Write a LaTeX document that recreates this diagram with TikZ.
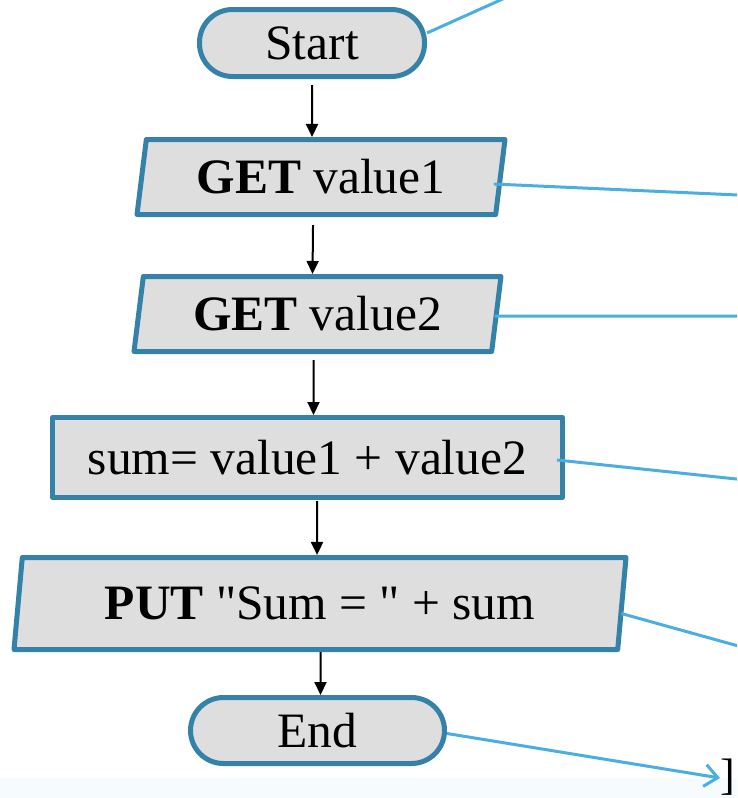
\documentclass[tikz,border=0pt]{standalone}
\usepackage{fontspec}
\setmainfont{Liberation Serif}
\usetikzlibrary{arrows.meta,shapes.geometric}

\definecolor{edgeblue}{HTML}{3582A8}
\definecolor{boxgray}{HTML}{DEDEDE}
\definecolor{linkblue}{HTML}{4BAEE3}
\definecolor{bandcyan}{HTML}{F6FBFD}

% straight double quote, kept out of the TeX quote mapping
\newcommand\dquote{\XeTeXglyph\XeTeXcharglyph34\relax}

\begin{document}
\begin{tikzpicture}[
  x=1pt, y=-1pt,
  font=\fontsize{49.5}{58}\selectfont,
  termbox/.style={draw=edgeblue, fill=boxgray, line width=5pt, rounded corners=33pt, minimum height=67pt, inner sep=0pt},
  iobox/.style={trapezium, trapezium left angle=75, trapezium right angle=105, trapezium stretches body,
    draw=edgeblue, fill=boxgray, line width=5pt, line join=round, inner sep=0pt},
  procbox/.style={rectangle, draw=edgeblue, fill=boxgray, line width=5pt, line join=round, inner sep=0pt},
  flow/.style={-{Triangle[length=13pt,width=12pt]}, line width=2pt},
  note/.style={linkblue, line width=3pt},
]

% page frame, lines running off the edge are cut
\clip (0,0) rectangle (737,798);
\fill[bandcyan] (0,778) rectangle (737,798);

% --- flowchart boxes ---
\node[termbox, minimum width=225pt] (start) at (312,43) {Start};
\node[iobox, minimum width=368pt, minimum height=75pt] (get1) at (321,177) {\textbf{GET} value1};
\node[iobox, minimum width=367pt, minimum height=75pt] (get2) at (317.5,314) {\textbf{GET} value2};
\node[procbox, minimum width=510pt, minimum height=80pt] (calc) at (307.5,457.5) {sum= value1 + value2};
\node[iobox, trapezium left angle=76, trapezium right angle=104, minimum width=612pt, minimum height=92pt]
  (put) at (320,603.5) {\textbf{PUT} \dquote Sum = \dquote{} + sum};
\node[termbox, minimum width=254pt, minimum height=66pt] (end) at (317.5,730.5) {End};

% --- flow arrows ---
\draw[flow] ([yshift=-6pt]start.south) -- ([xshift=-9pt]get1.north);
\draw[flow] ([xshift=-8pt,yshift=-8pt]get1.south) -- ([xshift=-5pt]get2.north);
\draw[flow] ([xshift=-4pt,yshift=-6pt]get2.south) -- ([xshift=6pt]calc.north);
\draw[flow] ([xshift=9.5pt,yshift=-1pt]calc.south) -- ([xshift=-3pt]put.north);
\draw[flow] ([xshift=0.5pt]put.south) -- ([xshift=3pt]end.north);

% --- callout lines to the right ---
\coordinate (o1) at (545,-20);
\coordinate (o2) at (760,196);
\coordinate (o3) at (760,316);
\coordinate (o4) at (760,481.5);
\coordinate (o5) at (760,652);
\coordinate (o6) at (720,778);
\draw[note] ([yshift=10pt]start.east) -- (o1);
\draw[note] ([xshift=-9pt,yshift=-7pt]get1.east) -- (o2);
\draw[note] ([xshift=-4pt,yshift=-2pt]get2.east) -- (o3);
\draw[note] ([xshift=-8pt,yshift=-2.5pt]calc.east) -- (o4);
\draw[note] ([xshift=-3pt,yshift=-10pt]put.east) -- (o5);
\draw[note, -{Straight Barb[length=13pt,width=22pt]}] ([yshift=-3pt]end.east) -- (o6);

% bracket at the page edge
\node[font=\fontsize{44}{50}\selectfont, anchor=base west, inner sep=0pt] (brk) at (720,789) {]};

\end{tikzpicture}
\end{document}
